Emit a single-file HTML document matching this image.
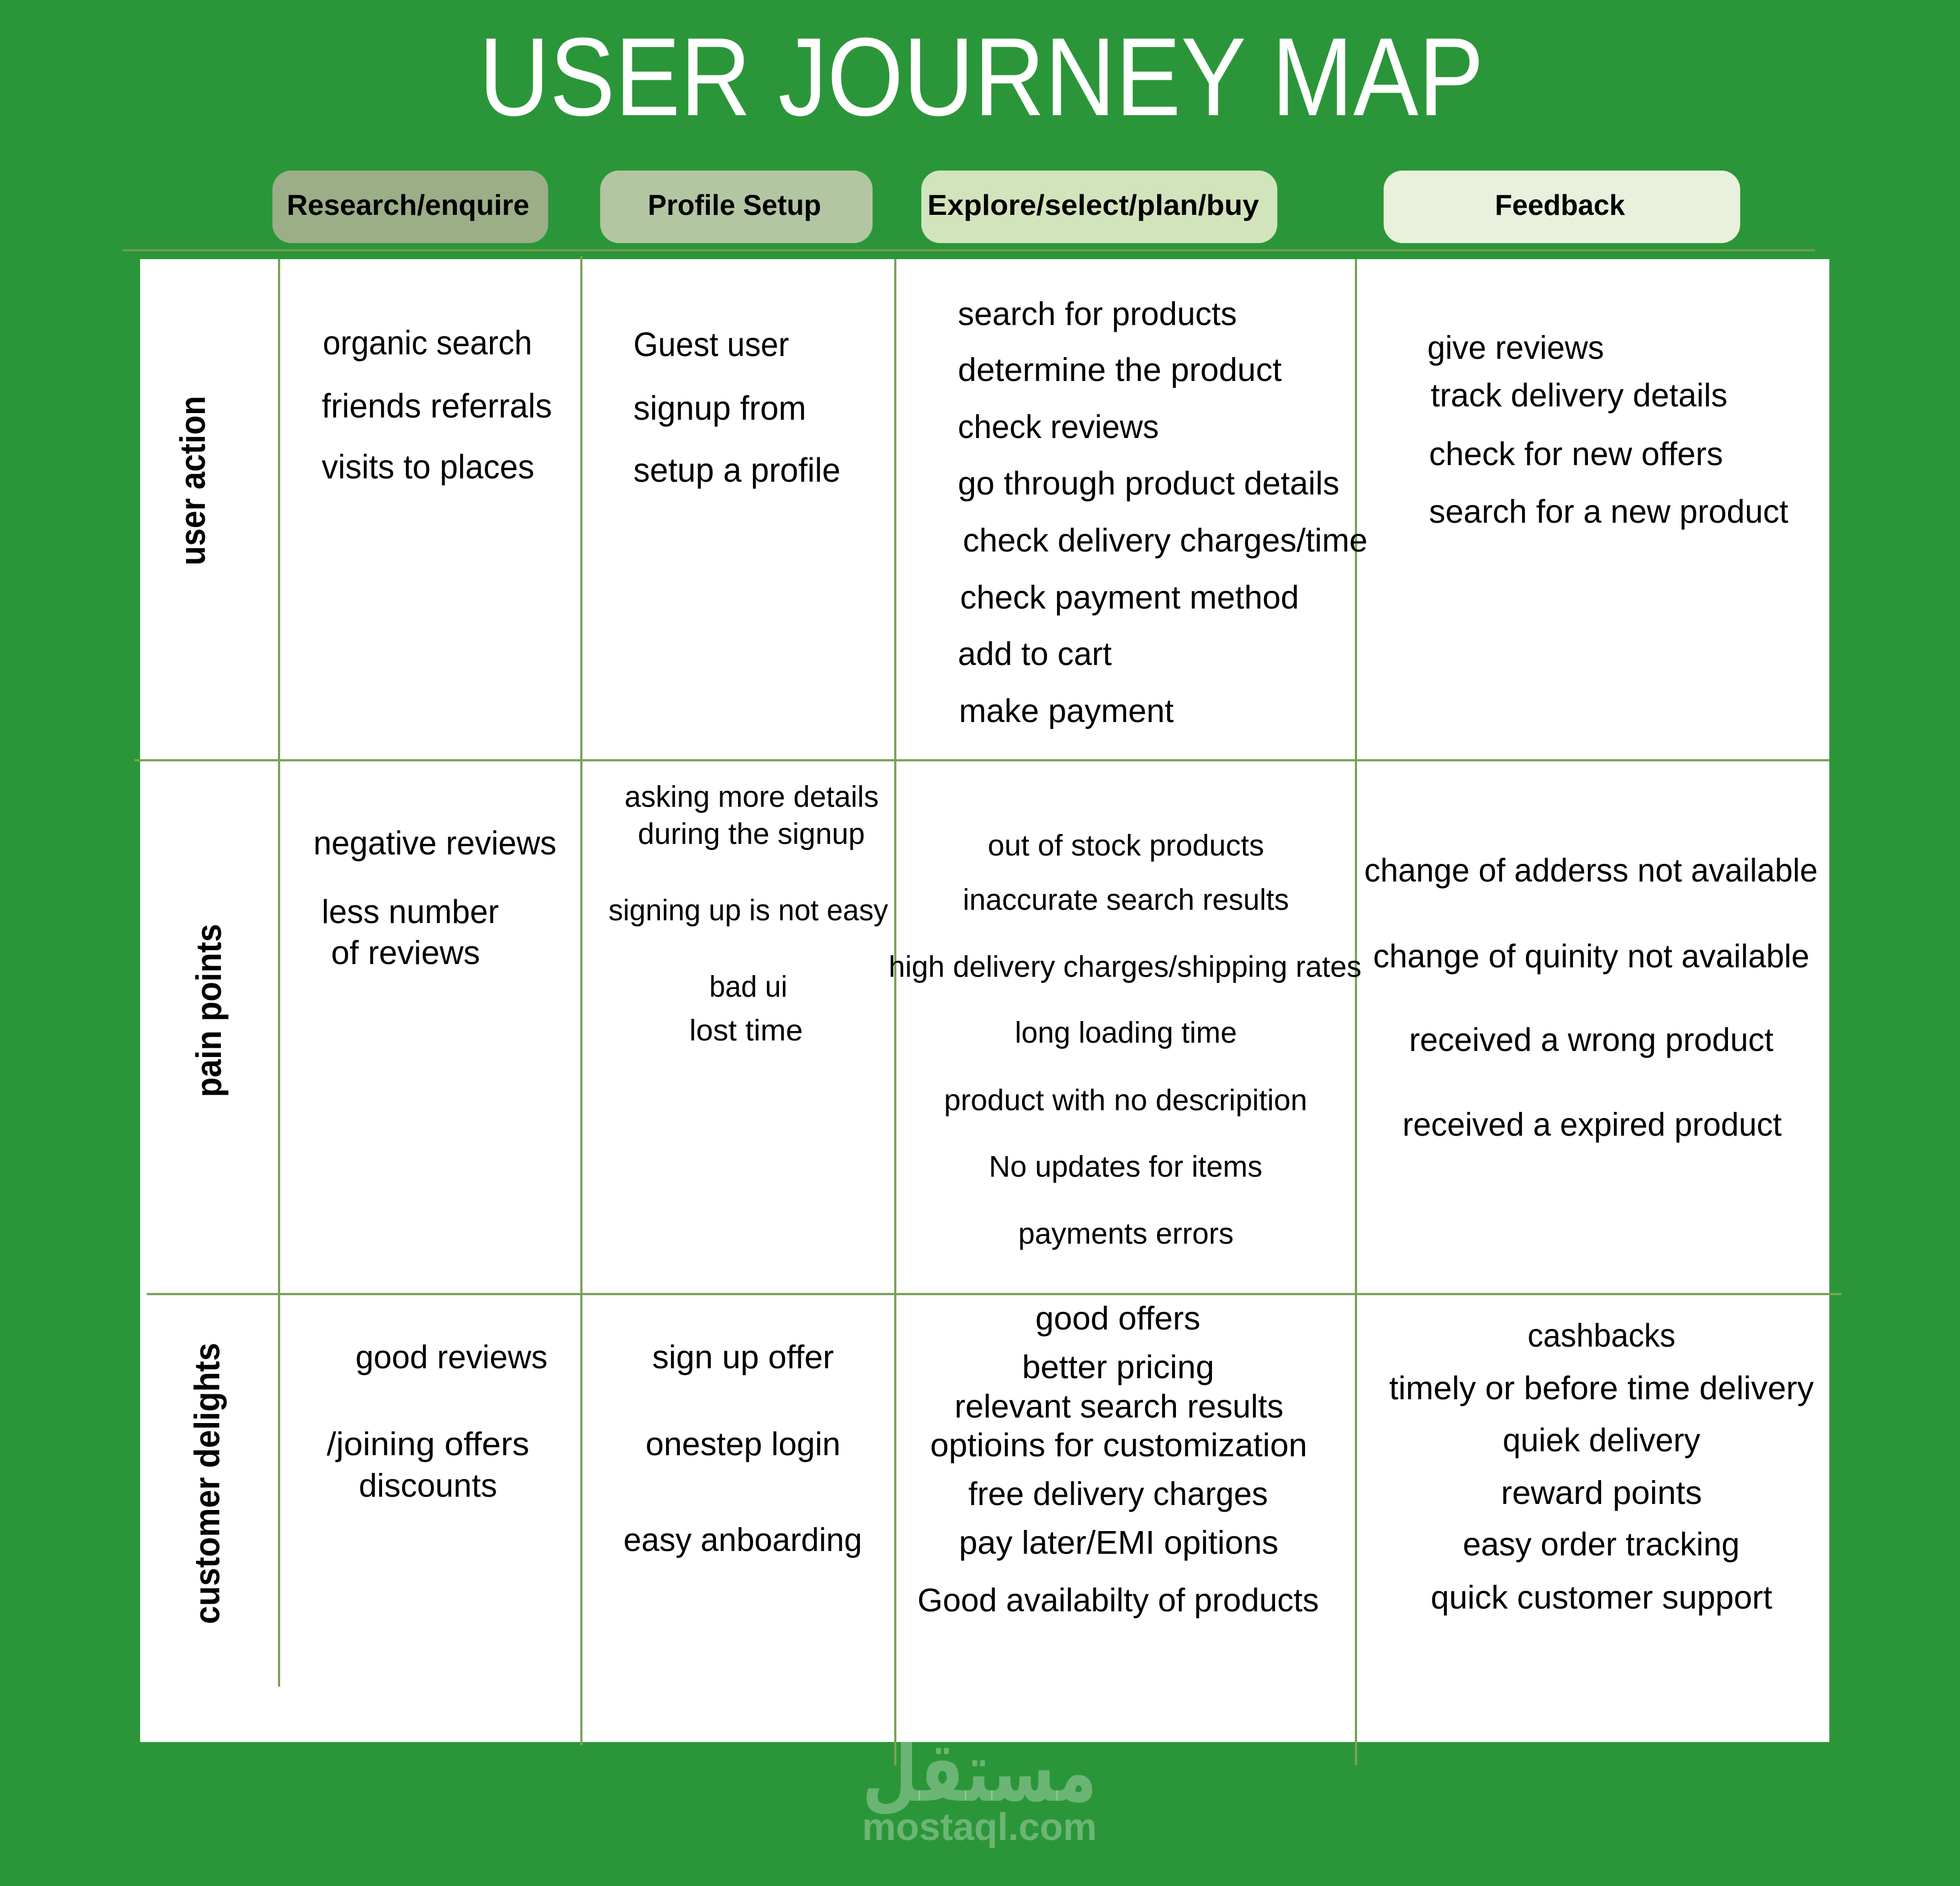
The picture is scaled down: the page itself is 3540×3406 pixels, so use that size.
<!DOCTYPE html>
<html>
<head>
<meta charset="utf-8">
<style>
  html,body{margin:0;padding:0;background:#2b9639;}
  svg{display:block;}
  .t{font-family:"Liberation Sans",sans-serif;fill:#000;}
  .b{font-family:"Liberation Sans",sans-serif;font-weight:bold;fill:#000;}
</style>
</head>
<body>
<svg xmlns="http://www.w3.org/2000/svg" width="3540" height="3406" viewBox="0 0 3540 3406">
  <rect x="0" y="0" width="3540" height="3406" fill="#2b9639"/>

  <!-- Title -->
  <text x="865" y="208" font-family="Liberation Sans, sans-serif" font-size="201" fill="#ffffff" textLength="1815" lengthAdjust="spacingAndGlyphs">USER JOURNEY MAP</text>

  <!-- Header buttons -->
  <rect x="492" y="308" width="498" height="131" rx="34" ry="34" fill="#9bae88"/>
  <rect x="1084" y="308" width="492" height="131" rx="34" ry="34" fill="#b2c6a1"/>
  <rect x="1664" y="308" width="643" height="131" rx="34" ry="34" fill="#d2e4bc"/>
  <rect x="2499" y="308" width="644" height="131" rx="34" ry="34" fill="#e9f1dc"/>

  <text class="b" x="518" y="388" font-size="52" textLength="438" lengthAdjust="spacingAndGlyphs">Research/enquire</text>
  <text class="b" x="1170" y="388" font-size="52" textLength="313" lengthAdjust="spacingAndGlyphs">Profile Setup</text>
  <text class="b" x="1675" y="388" font-size="52" textLength="599" lengthAdjust="spacingAndGlyphs">Explore/select/plan/buy</text>
  <text class="b" x="2700" y="388" font-size="52" textLength="235" lengthAdjust="spacingAndGlyphs">Feedback</text>

  <!-- header separator line -->
  <rect x="221" y="450" width="3057" height="4" fill="#6f9b4d"/>

  <!-- white table -->
  <rect x="253" y="468" width="3051" height="2678" fill="#ffffff"/>

  <!-- vertical lines -->
  <rect x="502" y="468" width="4" height="2578" fill="#7aa259"/>
  <rect x="1048" y="463" width="4" height="2689" fill="#7aa259"/>
  <rect x="1615" y="468" width="4" height="2720" fill="#7aa259"/>
  <rect x="2447" y="468" width="4" height="2720" fill="#7aa259"/>

  <!-- horizontal row lines -->
  <rect x="243" y="1371" width="3061" height="4" fill="#7aa259"/>
  <rect x="265" y="2335" width="3061" height="4" fill="#7aa259"/>

  <!-- Row labels -->
  <text class="b" transform="translate(370,868) rotate(-90)" x="0" y="0" text-anchor="middle" font-size="64" textLength="306" lengthAdjust="spacingAndGlyphs">user action</text>
  <text class="b" transform="translate(399,1825) rotate(-90)" x="0" y="0" text-anchor="middle" font-size="64" textLength="313" lengthAdjust="spacingAndGlyphs">pain points</text>
  <text class="b" transform="translate(396,2679) rotate(-90)" x="0" y="0" text-anchor="middle" font-size="64" textLength="508" lengthAdjust="spacingAndGlyphs">customer delights</text>

  <!-- Row 1: user action -->
  <g class="t" font-size="61">
    <text x="583" y="640" textLength="378" lengthAdjust="spacingAndGlyphs">organic search</text>
    <text x="581" y="754" textLength="416" lengthAdjust="spacingAndGlyphs">friends referrals</text>
    <text x="581" y="864" textLength="384" lengthAdjust="spacingAndGlyphs">visits to places</text>
    <text x="1144" y="643" textLength="281" lengthAdjust="spacingAndGlyphs">Guest user</text>
    <text x="1144" y="758" textLength="312" lengthAdjust="spacingAndGlyphs">signup from</text>
    <text x="1144" y="870" textLength="374" lengthAdjust="spacingAndGlyphs">setup a profile</text>
  </g>
  <g class="t" font-size="59">
    <text x="1730" y="587" textLength="504" lengthAdjust="spacingAndGlyphs">search for products</text>
    <text x="1730" y="688" textLength="585" lengthAdjust="spacingAndGlyphs">determine the product</text>
    <text x="1730" y="791" textLength="363" lengthAdjust="spacingAndGlyphs">check reviews</text>
    <text x="1730" y="893" textLength="689" lengthAdjust="spacingAndGlyphs">go through product details</text>
    <text x="1739" y="996" textLength="731" lengthAdjust="spacingAndGlyphs">check delivery charges/time</text>
    <text x="1734" y="1099" textLength="612" lengthAdjust="spacingAndGlyphs">check payment method</text>
    <text x="1730" y="1201" textLength="278" lengthAdjust="spacingAndGlyphs">add to cart</text>
    <text x="1732" y="1304" textLength="388" lengthAdjust="spacingAndGlyphs">make payment</text>
    <text x="2578" y="648" textLength="319" lengthAdjust="spacingAndGlyphs">give reviews</text>
    <text x="2584" y="734" textLength="536" lengthAdjust="spacingAndGlyphs">track delivery details</text>
    <text x="2581" y="840" textLength="531" lengthAdjust="spacingAndGlyphs">check for new offers</text>
    <text x="2581" y="944" textLength="649" lengthAdjust="spacingAndGlyphs">search for a new product</text>
  </g>

  <!-- Row 2: pain points -->
  <g class="t" font-size="60">
    <text x="566" y="1543" textLength="439" lengthAdjust="spacingAndGlyphs">negative reviews</text>
    <text x="581" y="1667" textLength="320" lengthAdjust="spacingAndGlyphs">less number</text>
    <text x="598" y="1741" textLength="269" lengthAdjust="spacingAndGlyphs">of reviews</text>
  </g>
  <g class="t" font-size="54">
    <text x="1128" y="1457" textLength="459" lengthAdjust="spacingAndGlyphs">asking more details</text>
    <text x="1152" y="1524" textLength="410" lengthAdjust="spacingAndGlyphs">during the signup</text>
    <text x="1099" y="1662" textLength="505" lengthAdjust="spacingAndGlyphs">signing up is not easy</text>
    <text x="1281" y="1800" textLength="141" lengthAdjust="spacingAndGlyphs">bad ui</text>
    <text x="1245" y="1879" textLength="205" lengthAdjust="spacingAndGlyphs">lost time</text>
    <text x="1784" y="1545" textLength="499" lengthAdjust="spacingAndGlyphs">out of stock products</text>
    <text x="1739" y="1643" textLength="589" lengthAdjust="spacingAndGlyphs">inaccurate search results</text>
    <text x="1605" y="1764" textLength="854" lengthAdjust="spacingAndGlyphs">high delivery charges/shipping rates</text>
    <text x="1833" y="1883" textLength="401" lengthAdjust="spacingAndGlyphs">long loading time</text>
    <text x="1705" y="2005" textLength="656" lengthAdjust="spacingAndGlyphs">product with no descripition</text>
    <text x="1786" y="2125" textLength="494" lengthAdjust="spacingAndGlyphs">No updates for items</text>
    <text x="1839" y="2246" textLength="389" lengthAdjust="spacingAndGlyphs">payments errors</text>
  </g>
  <g class="t" font-size="59">
    <text x="2464" y="1592" textLength="819" lengthAdjust="spacingAndGlyphs">change of adderss not available</text>
    <text x="2480" y="1747" textLength="788" lengthAdjust="spacingAndGlyphs">change of quinity not available</text>
    <text x="2545" y="1898" textLength="658" lengthAdjust="spacingAndGlyphs">received a wrong product</text>
    <text x="2533" y="2051" textLength="685" lengthAdjust="spacingAndGlyphs">received a expired product</text>
  </g>

  <!-- Row 3: customer delights -->
  <g class="t" font-size="59">
    <text x="642" y="2471" textLength="347" lengthAdjust="spacingAndGlyphs">good reviews</text>
    <text x="590" y="2628" textLength="366" lengthAdjust="spacingAndGlyphs">/joining offers</text>
    <text x="648" y="2703" textLength="250" lengthAdjust="spacingAndGlyphs">discounts</text>
    <text x="1178" y="2471" textLength="328" lengthAdjust="spacingAndGlyphs">sign up offer</text>
    <text x="1166" y="2628" textLength="352" lengthAdjust="spacingAndGlyphs">onestep login</text>
    <text x="1126" y="2801" textLength="431" lengthAdjust="spacingAndGlyphs">easy anboarding</text>
    <text x="1870" y="2401" textLength="298" lengthAdjust="spacingAndGlyphs">good offers</text>
    <text x="1846" y="2489" textLength="347" lengthAdjust="spacingAndGlyphs">better pricing</text>
    <text x="1724" y="2560" textLength="594" lengthAdjust="spacingAndGlyphs">relevant search results</text>
    <text x="1680" y="2630" textLength="681" lengthAdjust="spacingAndGlyphs">optioins for customization</text>
    <text x="1749" y="2718" textLength="541" lengthAdjust="spacingAndGlyphs">free delivery charges</text>
    <text x="1732" y="2806" textLength="577" lengthAdjust="spacingAndGlyphs">pay later/EMI opitions</text>
    <text x="1657" y="2910" textLength="725" lengthAdjust="spacingAndGlyphs">Good availabilty of products</text>
    <text x="2759" y="2432" textLength="267" lengthAdjust="spacingAndGlyphs">cashbacks</text>
    <text x="2509" y="2527" textLength="767" lengthAdjust="spacingAndGlyphs">timely or before time delivery</text>
    <text x="2714" y="2621" textLength="357" lengthAdjust="spacingAndGlyphs">quiek delivery</text>
    <text x="2711" y="2716" textLength="363" lengthAdjust="spacingAndGlyphs">reward points</text>
    <text x="2642" y="2809" textLength="500" lengthAdjust="spacingAndGlyphs">easy order tracking</text>
    <text x="2584" y="2905" textLength="617" lengthAdjust="spacingAndGlyphs">quick customer support</text>
  </g>

  <!-- Watermark -->
  <text x="1769" y="3252" text-anchor="middle" font-family="DejaVu Sans, sans-serif" font-weight="bold" font-size="150" fill="#ffffff" fill-opacity="0.3" textLength="424" lengthAdjust="spacingAndGlyphs">مستقل</text>
  <text x="1557" y="3323" font-family="Liberation Sans, sans-serif" font-weight="bold" font-size="70" fill="#ffffff" fill-opacity="0.3" textLength="424" lengthAdjust="spacingAndGlyphs">mostaql.com</text>
</svg>
</body>
</html>
